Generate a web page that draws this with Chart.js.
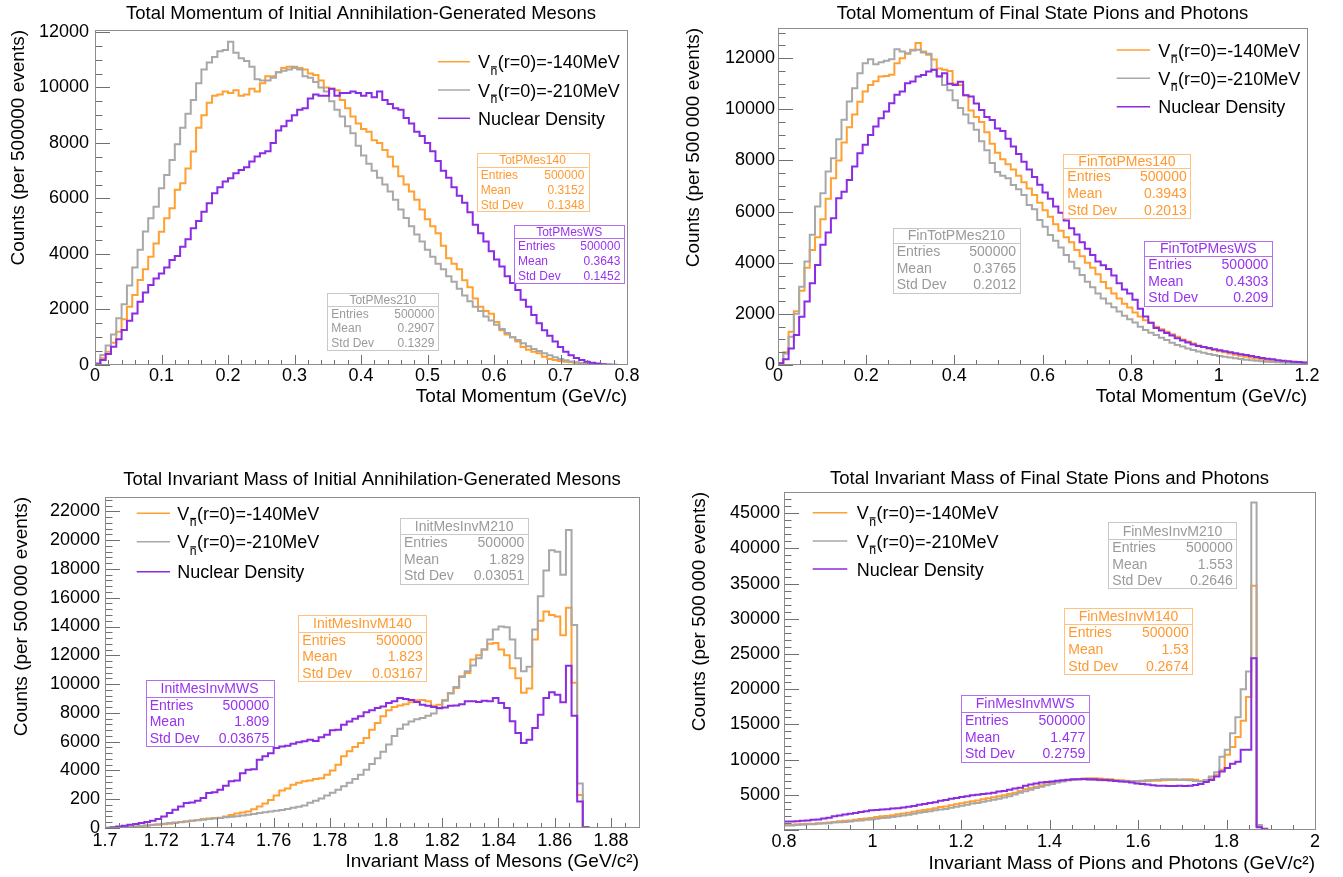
<!DOCTYPE html>
<html>
<head>
<meta charset="utf-8">
<title>Meson momentum and invariant mass</title>
<script src="https://cdn.jsdelivr.net/npm/chart.js@4.4.1/dist/chart.umd.min.js"></script>
<style>
  body { margin: 0; background: #fff; }
  #page { position: relative; width: 1343px; height: 877px; background: #fff; }
  canvas { position: absolute; }
</style>
</head>
<body>
<div id="page">
  <canvas id="c1" width="671" height="438" style="left:0;top:0"></canvas>
  <canvas id="c2" width="672" height="438" style="left:671px;top:0"></canvas>
  <canvas id="c3" width="671" height="439" style="left:0;top:438px"></canvas>
  <canvas id="c4" width="672" height="439" style="left:671px;top:438px"></canvas>
</div>
<script>
// ---- histogram binning: [low edge, high edge] and number of bins ----
const p1Range = [0, 0.8], p1Bins = 100;
const p2Range = [0, 1.2], p2Bins = 100;
const p3Range = [1.7, 1.89], p3Bins = 95;
const p4Range = [0.8, 2.0], p4Bins = 100;

// ---- bin contents (order: -140MeV, -210MeV, nuclear density) ----
const p1Orange = [35, 240, 480, 800, 1200, 1650, 2100, 2520, 3060, 3450, 3900, 4380, 4800, 5285, 5645, 6310, 6550, 7080, 7690,
  8550, 9000, 9450, 9700, 9750, 9850, 9800, 9900, 9700, 9750, 9950, 9850, 10150, 10400, 10400, 10550, 10700, 10750, 10700, 10700,
  10650, 10500, 10450, 10250, 10000, 9950, 9900, 9550, 9250, 8950, 8700, 8500, 8400, 8100, 8000, 7750, 7500, 7150, 6800, 6500,
  6250, 5950, 5600, 5250, 5000, 4750, 4300, 3850, 3650, 3450, 3050, 2800, 2400, 2100, 1950, 1850, 1550, 1250, 1100, 1000, 850,
  650, 550, 480, 420, 300, 220, 180, 140, 120, 100, 80, 60, 40, 20, 10, 0, 0, 0, 0, 0];
const p1Gray = [60, 360, 700, 1100, 1680, 2190, 2860, 3510, 4150, 4810, 5285, 5705, 6370, 6850, 7390, 7950, 8550, 9050, 9550, 10150,
  10650, 10900, 11100, 11300, 11350, 11650, 11250, 11050, 10950, 10750, 10300, 10250, 10250, 10350, 10550, 10600, 10650, 10750, 10650, 10400,
  10350, 10200, 10000, 9850, 9500, 9200, 8950, 8600, 8350, 7900, 7550, 7250, 7000, 6750, 6500, 6250, 5950, 5600, 5300, 5000,
  4700, 4450, 4150, 3900, 3650, 3450, 3200, 3000, 2750, 2500, 2300, 2100, 1950, 1750, 1600, 1450, 1300, 1150, 1000, 900,
  780, 680, 580, 500, 420, 350, 280, 220, 170, 130, 100, 70, 50, 30, 20, 10, 0, 0, 0, 0];
const p1Purple = [25, 180, 400, 660, 925, 1260, 1590, 1860, 2280, 2610, 2880, 3120, 3300, 3510, 3785, 3930, 4265, 4530, 4925, 5190,
  5525, 5825, 6185, 6400, 6610, 6730, 6910, 7030, 7125, 7330, 7510, 7630, 7700, 8000, 8450, 8600, 8800, 9000, 9200, 9250,
  9600, 9750, 9700, 9700, 9950, 9700, 9800, 9800, 9850, 9800, 9700, 9800, 9650, 9850, 9550, 9400, 9250, 9200, 8900, 8700,
  8400, 8250, 8000, 7700, 7350, 7000, 6750, 6400, 6100, 5850, 5500, 5050, 4750, 4450, 4100, 3800, 3550, 3200, 2950, 2700,
  2350, 2100, 1800, 1500, 1250, 1050, 850, 650, 480, 350, 250, 180, 120, 80, 50, 30, 20, 10, 0, 0];

const p2Orange = [70, 500, 1300, 2100, 2900, 3800, 4500, 5000, 5700, 6500, 7300, 8000, 8700, 9300, 9800, 10300, 10700, 10950, 11100, 11280,
  11300, 11350, 11800, 12000, 12170, 12325, 12590, 12260, 12130, 11950, 11600, 11550, 11500, 11000, 10950, 10550, 9950, 9700, 9500, 9100,
  8650, 8300, 8050, 7850, 7650, 7400, 7150, 6900, 6650, 6350, 6050, 5800, 5500, 5250, 5000, 4800, 4500, 4250, 4000, 3800,
  3550, 3250, 3000, 2800, 2600, 2400, 2250, 2050, 1900, 1750, 1650, 1500, 1400, 1300, 1200, 1100, 1000, 920, 840, 760,
  700, 640, 590, 540, 500, 450, 400, 360, 320, 280, 250, 220, 200, 180, 160, 140, 120, 110, 100, 90];
const p2Gray = [70, 450, 1100, 2000, 3065, 4045, 5090, 6200, 6720, 7565, 8090, 8830, 9590, 10305, 10825, 11413, 11800, 11960, 11765, 11843,
  11895, 11960, 12350, 12260, 12195, 12300, 12325, 12220, 12170, 11550, 11300, 10950, 10750, 10350, 10050, 9800, 9450, 9200, 8750, 8400,
  7900, 7550, 7400, 7300, 7040, 6870, 6650, 6260, 6090, 5670, 5410, 5080, 4860, 4600, 4300, 4040, 3780, 3520, 3260, 3040,
  2800, 2600, 2410, 2260, 2090, 1930, 1790, 1660, 1500, 1370, 1260, 1170, 1070, 980, 870, 780, 720, 650, 590, 530,
  480, 430, 390, 350, 320, 290, 260, 230, 210, 190, 170, 150, 130, 120, 110, 100, 90, 80, 70, 60];
const p2Purple = [70, 225, 650, 1170, 1890, 2480, 3200, 3915, 4700, 5180, 5740, 6520, 6780, 7240, 7760, 8280, 8610, 9000, 9325, 9650,
  9915, 10240, 10565, 10695, 11020, 11085, 11280, 11345, 11478, 11543, 11280, 11413, 11000, 10950, 11080, 10550, 10500, 10230, 9970, 9700,
  9580, 9250, 9150, 8850, 8550, 8250, 7950, 7650, 7350, 7050, 6750, 6500, 6200, 5950, 5650, 5350, 5100, 4800, 4550, 4300,
  4050, 3900, 3750, 3500, 3200, 2950, 2800, 2550, 2200, 1900, 1650, 1450, 1350, 1250, 1150, 1050, 960, 880, 800, 740,
  700, 660, 620, 580, 540, 500, 460, 420, 390, 350, 310, 270, 240, 220, 190, 170, 150, 130, 115, 100];

const p3Orange = [0, 10, 30, 50, 80, 110, 140, 170, 200, 230, 260, 300, 350, 400, 450, 500, 560, 620, 660, 700,
  720, 800, 900, 1000, 1080, 1150, 1300, 1500, 1700, 1950, 2250, 2600, 2750, 3000, 3150, 3250, 3300, 3400, 3450, 3700,
  4000, 4400, 4980, 5330, 5630, 5900, 6250, 6830, 7300, 7760, 8180, 8400, 8520, 8600, 8730, 8870, 8900, 8800, 8500, 8570,
  8900, 9380, 9730, 10540, 10770, 11700, 12000, 12400, 12800, 12850, 12400, 12000, 11100, 10400, 9400, 9700, 13100, 14400, 15050, 14800,
  14700, 13400, 15300, 10100, 2300, 50, 0, 0, 0, 0, 0, 0, 0, 0, 0];
const p3Gray = [0, 10, 30, 50, 80, 110, 150, 180, 220, 260, 300, 340, 380, 420, 460, 500, 540, 580, 620, 660,
  700, 740, 780, 820, 860, 920, 980, 1040, 1100, 1150, 1200, 1250, 1320, 1400, 1480, 1560, 1750, 1900, 2050, 2250,
  2450, 2650, 2900, 3150, 3400, 3700, 4050, 4450, 4850, 5300, 5800, 6400, 6900, 7200, 7400, 7550, 7650, 7800, 7950, 8300,
  8850, 9350, 9800, 10500, 10900, 11300, 11800, 12400, 13100, 13800, 14000, 13950, 13100, 11800, 10900, 11200, 13800, 16100, 17900, 19300,
  19200, 17600, 20700, 14100, 3100, 50, 0, 0, 0, 0, 0, 0, 0, 0, 0];
const p3Purple = [20, 60, 100, 150, 220, 280, 350, 420, 500, 620, 800, 1040, 1270, 1500, 1740, 1780, 1900, 2080, 2430, 2480,
  2660, 2940, 3240, 3300, 3800, 4050, 4080, 4750, 4980, 5200, 5560, 5670, 5720, 5860, 5950, 6020, 6140, 6050, 6300, 6480,
  6790, 6830, 7180, 7400, 7600, 7760, 8040, 8180, 8340, 8450, 8680, 8800, 9030, 8970, 8900, 8750, 8570, 8500, 8400, 8340,
  8380, 8500, 8520, 8600, 8800, 8800, 8750, 8850, 8800, 9030, 8680, 8340, 7410, 6600, 5900, 6140, 6950, 7870, 9030, 9430,
  9260, 8730, 11280, 7800, 1850, 50, 0, 0, 0, 0, 0, 0, 0, 0, 0];

const p4Orange = [750, 750, 800, 850, 880, 900, 950, 1000, 1070, 1150, 1250, 1300, 1350, 1450, 1550, 1650, 1700, 1850, 1950, 2000,
  2100, 2250, 2350, 2450, 2600, 2750, 2850, 2950, 3100, 3250, 3350, 3500, 3650, 3800, 3950, 4100, 4200, 4350, 4500, 4650,
  4800, 4950, 5100, 5300, 5550, 5800, 5950, 6150, 6350, 6500, 6700, 6850, 6950, 7050, 7150, 7200, 7300, 7350, 7350, 7300,
  7250, 7200, 7100, 7050, 7000, 6950, 6900, 6900, 6950, 7000, 7000, 7050, 7100, 7100, 7150, 7200, 7200, 7150, 6950, 6950,
  7350, 7850, 8550, 10700, 11800, 13200, 15500, 18900, 34700, 500, 100, 0, 0, 0, 0, 0, 0, 0, 0, 0];
const p4Gray = [650, 650, 700, 750, 800, 820, 880, 920, 970, 1050, 1100, 1150, 1200, 1300, 1350, 1450, 1500, 1600, 1700, 1750,
  1850, 1950, 2050, 2150, 2300, 2450, 2550, 2650, 2800, 2900, 3000, 3150, 3300, 3450, 3600, 3750, 3850, 4000, 4150, 4300,
  4450, 4600, 4800, 5050, 5300, 5500, 5700, 5950, 6150, 6350, 6550, 6750, 6900, 7050, 7150, 7200, 7200, 7150, 7100, 7050,
  7050, 7000, 7000, 6950, 6950, 6900, 6950, 7000, 7050, 7100, 7150, 7200, 7200, 7200, 7150, 7100, 7050, 6950, 6900, 7100,
  7600, 8200, 10400, 11400, 13750, 16000, 20000, 22500, 46500, 700, 200, 0, 0, 0, 0, 0, 0, 0, 0, 0];
const p4Purple = [1200, 1200, 1250, 1300, 1350, 1450, 1500, 1650, 1750, 1950, 2050, 2200, 2300, 2400, 2550, 2650, 2800, 2850, 2900, 2950,
  3050, 3100, 3200, 3300, 3400, 3600, 3700, 3850, 3950, 4150, 4250, 4450, 4550, 4700, 4800, 4950, 5000, 5100, 5200, 5300,
  5450, 5550, 5700, 5900, 6000, 6300, 6450, 6600, 6750, 6800, 6900, 7000, 7050, 7150, 7200, 7200, 7250, 7200, 7200, 7150,
  7100, 7050, 6950, 6900, 6850, 6750, 6600, 6550, 6450, 6350, 6300, 6300, 6250, 6250, 6300, 6250, 6300, 6400, 6550, 6800,
  7100, 7600, 8300, 8800, 9400, 9700, 11400, 11400, 24400, 400, 100, 0, 0, 0, 0, 0, 0, 0, 0, 0];

// ---- axis ticks and their labels ----
const p1XTicks = [0, 0.1, 0.2, 0.3, 0.4, 0.5, 0.6, 0.7, 0.8];
const p1XLabels = ['0', '0.1', '0.2', '0.3', '0.4', '0.5', '0.6', '0.7', '0.8'];
const p1YTicks = [0, 2000, 4000, 6000, 8000, 10000, 12000];
const p1YLabels = ['0', '2000', '4000', '6000', '8000', '10000', '12000'];
const p2XTicks = [0, 0.2, 0.4, 0.6, 0.8, 1, 1.2];
const p2XLabels = ['0', '0.2', '0.4', '0.6', '0.8', '1', '1.2'];
const p2YTicks = [0, 2000, 4000, 6000, 8000, 10000, 12000];
const p2YLabels = ['0', '2000', '4000', '6000', '8000', '10000', '12000'];
const p3XTicks = [1.7, 1.72, 1.74, 1.76, 1.78, 1.8, 1.82, 1.84, 1.86, 1.88];
const p3XLabels = ['1.7', '1.72', '1.74', '1.76', '1.78', '1.8', '1.82', '1.84', '1.86', '1.88'];
const p3YTicks = [0, 2000, 4000, 6000, 8000, 10000, 12000, 14000, 16000, 18000, 20000, 22000];
const p3YLabels = ['0', '200', '4000', '6000', '8000', '10000', '12000', '14000', '16000', '18000', '20000', '22000'];
const p4XTicks = [0.8, 1, 1.2, 1.4, 1.6, 1.8, 2];
const p4XLabels = ['0.8', '1', '1.2', '1.4', '1.6', '1.8', '2'];
const p4YTicks = [5000, 10000, 15000, 20000, 25000, 30000, 35000, 40000, 45000];
const p4YLabels = ['5000', '10000', '15000', '20000', '25000', '30000', '35000', '40000', '45000'];

// ---- legend and statistics boxes ----
const legendLabels = ['V_{#bar{n}}(r=0)=-140MeV', 'V_{#bar{n}}(r=0)=-210MeV', 'Nuclear Density'];
const statEntries = '500000';
const p1StatNames = ['TotPMes140', 'TotPMes210', 'TotPMesWS'];
const p1StatMean = ['0.3152', '0.2907', '0.3643'];
const p1StatStd = ['0.1348', '0.1329', '0.1452'];
const p2StatNames = ['FinTotPMes140', 'FinTotPMes210', 'FinTotPMesWS'];
const p2StatMean = ['0.3943', '0.3765', '0.4303'];
const p2StatStd = ['0.2013', '0.2012', '0.209'];
const p3StatNames = ['InitMesInvM140', 'InitMesInvM210', 'InitMesInvMWS'];
const p3StatMean = ['1.823', '1.829', '1.809'];
const p3StatStd = ['0.03167', '0.03051', '0.03675'];
const p4StatNames = ['FinMesInvM140', 'FinMesInvM210', 'FinMesInvMWS'];
const p4StatMean = ['1.53', '1.553', '1.477'];
const p4StatStd = ['0.2674', '0.2646', '0.2759'];

// ---- styling ----
const FONT = "'Liberation Sans', Arial, Helvetica, sans-serif";
const lineColors = ['#ffa033', '#a8a8a8', '#8b2be2'];
const statTextColors = ['#ff9a33', '#9a9a9a', '#9933ee'];
const statBorderColors = ['#ffc27f', '#c8c8c8', '#b070f0'];
const drawOrder = [2, 1, 0];

// draws "V_{#bar{n}}(...)" the way ROOT's TLatex does
function drawLatex(ctx, text, x, y, size) {
  const m = text.match(/^(.*?)_\{#bar\{(.*?)\}\}(.*)$/);
  ctx.textAlign = 'left';
  ctx.textBaseline = 'alphabetic';
  ctx.font = size + 'px ' + FONT;
  if (!m) { ctx.fillText(text, x, y); return; }
  ctx.fillText(m[1], x, y);
  x += ctx.measureText(m[1]).width;
  const small = size * 0.68;
  ctx.font = small + 'px ' + FONT;
  const sw = ctx.measureText(m[2]).width;
  const sy = y + size * 0.37;
  ctx.fillText(m[2], x + 0.5, sy);
  ctx.fillRect(x + 1, sy - small * 0.52 - 2.2, sw - 1, 1.2);
  x += sw + 1;
  ctx.font = size + 'px ' + FONT;
  ctx.fillText(m[3], x, y);
}

function makeDecor(p) {
  return {
    id: 'rootDecor',
    afterDraw(chart) {
      const ctx = chart.ctx, a = chart.chartArea;
      const xs = chart.scales.x, ys = chart.scales.y;
      ctx.save();

      // ticks drawn inside the frame
      ctx.beginPath();
      ctx.strokeStyle = '#707070';
      ctx.lineWidth = 1;
      const kx0 = Math.ceil(xs.min / p.xMinor - 1e-6), kx1 = Math.floor(xs.max / p.xMinor + 1e-6);
      for (let k = kx0; k <= kx1; k++) {
        const v = k * p.xMinor, r = v / p.xMajor;
        const len = Math.abs(r - Math.round(r)) < 1e-6 ? 10 : 5;
        const px = Math.round(xs.getPixelForValue(v)) + 0.5;
        ctx.moveTo(px, a.bottom);
        ctx.lineTo(px, a.bottom - len);
      }
      const ky0 = Math.ceil(ys.min / p.yMinor - 1e-6), ky1 = Math.floor(ys.max / p.yMinor + 1e-6);
      for (let k = ky0; k <= ky1; k++) {
        const v = k * p.yMinor;
        const len = v % p.yMajor === 0 ? 15 : 7.5;
        const py = Math.round(ys.getPixelForValue(v)) + 0.5;
        ctx.moveTo(a.left, py);
        ctx.lineTo(a.left + len, py);
      }
      ctx.stroke();

      // frame
      ctx.strokeStyle = '#8c8c8c';
      ctx.strokeRect(Math.round(a.left) + 0.5, Math.round(a.top) + 0.5,
        Math.round(a.right - a.left), Math.round(a.bottom - a.top) - 1);

      // pad title
      ctx.fillStyle = '#000';
      ctx.font = '18.5px ' + FONT;
      ctx.textAlign = 'center';
      ctx.textBaseline = 'middle';
      ctx.fillText(p.title, (a.left + a.right) / 2, p.titleY);

      // legend
      p.legendRows.forEach((ry, s) => {
        ctx.strokeStyle = lineColors[s];
        ctx.lineWidth = 1.5;
        ctx.beginPath();
        ctx.moveTo(p.legendX[0], ry);
        ctx.lineTo(p.legendX[1], ry);
        ctx.stroke();
        ctx.fillStyle = '#000';
        drawLatex(ctx, legendLabels[s], p.legendX[2], ry + 6.5, 18);
      });

      // statistics boxes
      p.boxes.forEach(b => {
        ctx.fillStyle = '#fff';
        ctx.fillRect(b.x, b.y, b.w, b.h);
        ctx.strokeStyle = statBorderColors[b.s];
        ctx.lineWidth = 1;
        ctx.strokeRect(Math.round(b.x) + 0.5, Math.round(b.y) + 0.5, Math.round(b.w), Math.round(b.h));
        ctx.beginPath();
        ctx.moveTo(b.x, Math.round(b.sep) + 0.5);
        ctx.lineTo(b.x + b.w, Math.round(b.sep) + 0.5);
        ctx.stroke();
        ctx.fillStyle = statTextColors[b.s];
        ctx.font = p.statFont + 'px ' + FONT;
        ctx.textBaseline = 'middle';
        ctx.textAlign = 'center';
        ctx.fillText(p.statNames[b.s], b.x + b.w / 2, (b.y + b.sep) / 2 + 1);
        const rowH = (b.y + b.h - b.sep) / 3;
        const rows = [['Entries', statEntries], ['Mean', p.statMean[b.s]], ['Std Dev', p.statStd[b.s]]];
        rows.forEach((r, k) => {
          const cy = b.sep + rowH * (k + 0.5) + 1;
          ctx.textAlign = 'left';
          ctx.fillText(r[0], b.x + 4, cy);
          ctx.textAlign = 'right';
          ctx.fillText(r[1], b.x + b.w - 4, cy);
        });
      });
      ctx.restore();
    }
  };
}

function makePanel(id, p) {
  const cv = document.getElementById(id);
  const W = cv.width, H = cv.height, A = p.area;
  const bw = (p.range[1] - p.range[0]) / p.bins;
  const datasets = p.series.map((counts, s) => {
    const pts = counts.map((c, i) => ({ x: p.range[0] + i * bw, y: c }));
    pts.push({ x: p.range[1], y: counts[counts.length - 1] });
    return {
      label: legendLabels[s], data: pts, stepped: true,
      borderColor: lineColors[s], borderWidth: 2, pointRadius: 0, fill: false, order: drawOrder[s]
    };
  });
  new Chart(cv, {
    type: 'line',
    data: { datasets },
    options: {
      responsive: false,
      animation: false,
      events: [],
      layout: { padding: { left: 0, top: A.top, right: W - A.right, bottom: 0 } },
      plugins: { legend: { display: false }, title: { display: false }, tooltip: { enabled: false } },
      scales: {
        x: {
          type: 'linear', min: p.range[0], max: p.range[1],
          grid: { display: false, drawTicks: false }, border: { display: false },
          afterBuildTicks: ax => { ax.ticks = p.xTicks.map(v => ({ value: v })); },
          afterFit: ax => { ax.height = H - A.bottom; },
          ticks: {
            autoSkip: false, maxRotation: 0, padding: p.xPad, color: '#000',
            font: { family: FONT, size: 18 }, callback: (v, i) => p.xLabels[i]
          },
          title: {
            display: true, text: p.xTitle, align: 'end', color: '#000',
            font: { family: FONT, size: 19 }, padding: { top: 0, bottom: p.xTitlePad }
          }
        },
        y: {
          type: 'linear', min: 0, max: p.yMax,
          grid: { display: false, drawTicks: false }, border: { display: false },
          afterBuildTicks: ax => { ax.ticks = p.yTicks.map(v => ({ value: v })); },
          afterFit: ax => { ax.width = A.left; },
          ticks: {
            autoSkip: false, padding: p.yPad, color: '#000',
            font: { family: FONT, size: 18 }, callback: (v, i) => p.yLabels[i]
          },
          title: {
            display: true, text: p.yTitle, align: 'end', color: '#000',
            font: { family: FONT, size: 19 }, padding: { top: p.yTitlePad, bottom: 0 }
          }
        }
      }
    },
    plugins: [makeDecor(p)]
  });
}

makePanel('c1', {
  range: p1Range, bins: p1Bins, series: [p1Orange, p1Gray, p1Purple], yMax: 12070,
  xTicks: p1XTicks, xLabels: p1XLabels, yTicks: p1YTicks, yLabels: p1YLabels,
  xMajor: 0.1, xMinor: 0.02, yMajor: 2000, yMinor: 500,
  area: { left: 95, top: 30, right: 627, bottom: 365 },
  xPad: 0, yPad: 6, xTitlePad: 29.6, yTitlePad: 7.8,
  title: 'Total Momentum of Initial Annihilation-Generated Mesons', titleY: 13.5,
  xTitle: 'Total Momentum (GeV/c)', yTitle: 'Counts (per 500000 events)',
  legendX: [438, 470, 478], legendRows: [61.7, 90, 118.3],
  statNames: p1StatNames, statMean: p1StatMean, statStd: p1StatStd, statFont: 12,
  boxes: [
    { s: 0, x: 476.7, y: 153.3, w: 111.6, h: 58.4, sep: 166.7 },
    { s: 2, x: 514, y: 225, w: 110.3, h: 57.7, sep: 238.3 },
    { s: 1, x: 327.3, y: 292.7, w: 111, h: 57.3, sep: 306 }
  ]
});

makePanel('c2', {
  range: p2Range, bins: p2Bins, series: [p2Orange, p2Gray, p2Purple], yMax: 13180,
  xTicks: p2XTicks, xLabels: p2XLabels, yTicks: p2YTicks, yLabels: p2YLabels,
  xMajor: 0.2, xMinor: 0.05, yMajor: 2000, yMinor: 500,
  area: { left: 107, top: 28, right: 636, bottom: 365 },
  xPad: 0, yPad: 3, xTitlePad: 29.6, yTitlePad: 11.6,
  title: 'Total Momentum of Final State Pions and Photons', titleY: 13.5,
  xTitle: 'Total Momentum (GeV/c)', yTitle: 'Counts (per 500\u2009000 events)',
  legendX: [445.7, 479, 487.3], legendRows: [50, 78.3, 106.7],
  statNames: p2StatNames, statMean: p2StatMean, statStd: p2StatStd, statFont: 14,
  boxes: [
    { s: 0, x: 392.3, y: 154, w: 127.4, h: 64.3, sep: 168.3 },
    { s: 2, x: 473.3, y: 240.7, w: 128, h: 65.3, sep: 255.7 },
    { s: 1, x: 221.7, y: 227.7, w: 127.3, h: 64.6, sep: 243.3 }
  ]
});

makePanel('c3', {
  range: p3Range, bins: p3Bins, series: [p3Orange, p3Gray, p3Purple], yMax: 23000,
  xTicks: p3XTicks, xLabels: p3XLabels, yTicks: p3YTicks, yLabels: p3YLabels,
  xMajor: 0.02, xMinor: 0.005, yMajor: 2000, yMinor: 400,
  area: { left: 105, top: 59, right: 639, bottom: 390 },
  xPad: 2.5, yPad: 5, xTitlePad: 3.9, yTitlePad: 10.3,
  title: 'Total Invariant Mass of Initial Annihilation-Generated Mesons', titleY: 42,
  xTitle: 'Invariant Mass of Mesons (GeV/c\u00b2)', yTitle: 'Counts (per 500\u2009000 events)',
  legendX: [136.7, 170, 177.3], legendRows: [75.3, 103.7, 133.7],
  statNames: p3StatNames, statMean: p3StatMean, statStd: p3StatStd, statFont: 14,
  boxes: [
    { s: 1, x: 400, y: 79.7, w: 128.3, h: 65.6, sep: 96 },
    { s: 0, x: 298.3, y: 177, w: 128.4, h: 66, sep: 193.7 },
    { s: 2, x: 145.7, y: 242, w: 127.6, h: 66, sep: 258.7 }
  ]
});

makePanel('c4', {
  range: p4Range, bins: p4Bins, series: [p4Orange, p4Gray, p4Purple], yMax: 48000,
  xTicks: p4XTicks, xLabels: p4XLabels, yTicks: p4YTicks, yLabels: p4YLabels,
  xMajor: 0.2, xMinor: 0.05, yMajor: 5000, yMinor: 1000,
  area: { left: 113, top: 54, right: 644, bottom: 392 },
  xPad: 1.5, yPad: 4, xTitlePad: 2.3, yTitlePad: 17.6,
  title: 'Total Invariant Mass of Final State Pions and Photons', titleY: 40.5,
  xTitle: 'Invariant Mass of Pions and Photons (GeV/c\u00b2)', yTitle: 'Counts (per 500\u2009000 events)',
  legendX: [141.7, 176.3, 185.7], legendRows: [74.7, 103, 131],
  statNames: p4StatNames, statMean: p4StatMean, statStd: p4StatStd, statFont: 14,
  boxes: [
    { s: 1, x: 437.3, y: 84.3, w: 128.4, h: 66, sep: 101 },
    { s: 0, x: 393.3, y: 170.3, w: 128.4, h: 65.7, sep: 186.3 },
    { s: 2, x: 290, y: 257, w: 128.3, h: 66.7, sep: 273.7 }
  ]
});
</script>
</body>
</html>
